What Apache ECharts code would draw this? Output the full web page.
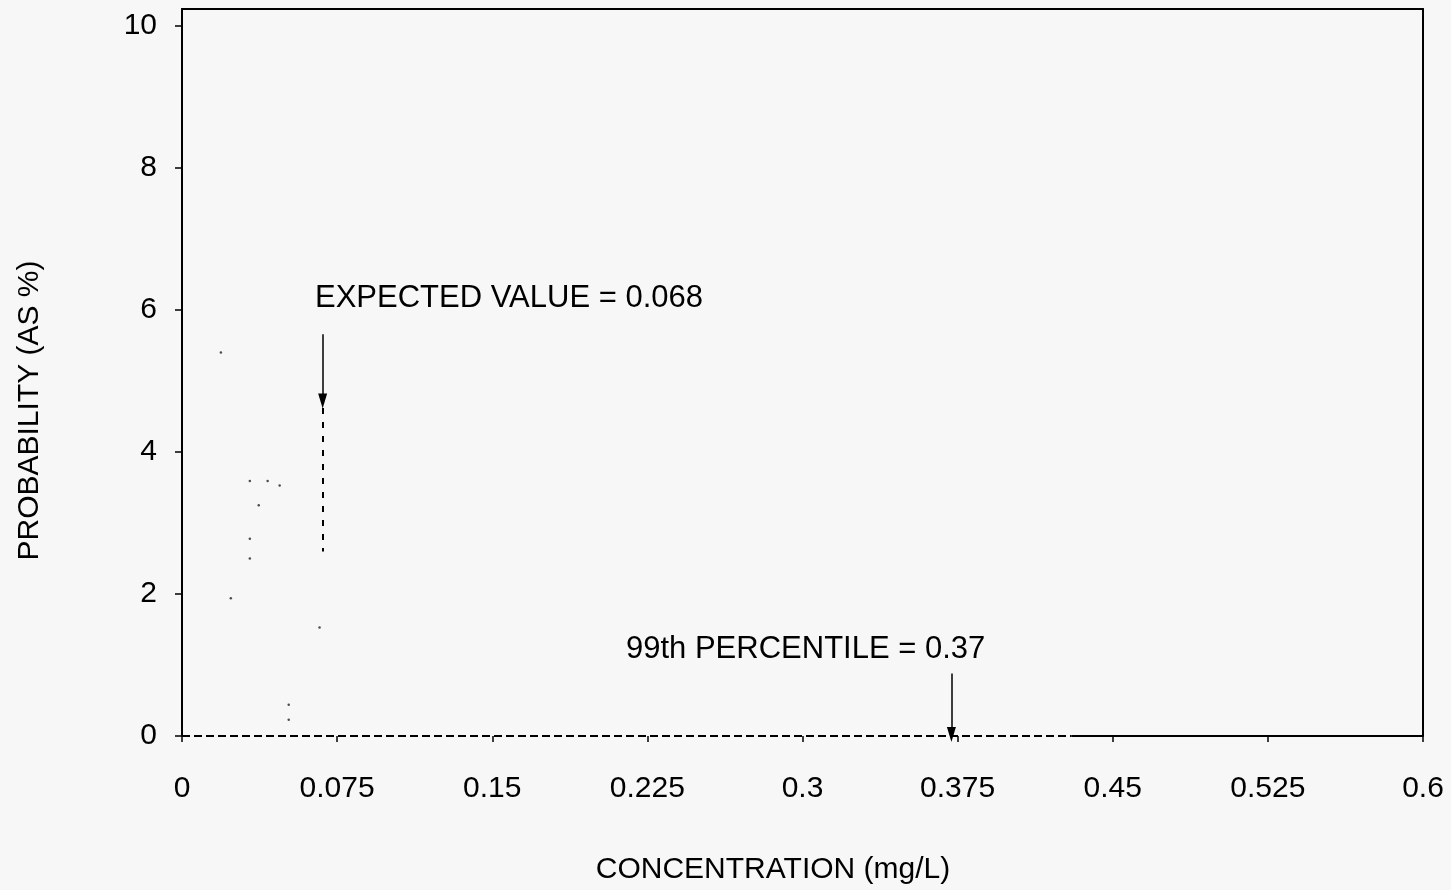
<!DOCTYPE html>
<html>
<head>
<meta charset="utf-8">
<script src="https://cdn.jsdelivr.net/npm/echarts@6/dist/echarts.min.js"></script>
<style>
  html, body { margin: 0; padding: 0; background: #f7f7f7; }
  #chart { width: 1451px; height: 890px; }
</style>
</head>
<body>
<div id="chart"></div>
<script>
// axis ticks
var xTicks = [0, 0.075, 0.15, 0.225, 0.3, 0.375, 0.45, 0.525, 0.6];
var yTicks = [0, 2, 4, 6, 8, 10];

// faint points left of the distribution curve (concentration, probability %)
var curveConc = [0.0188, 0.0328, 0.0414, 0.0472, 0.0371, 0.0328, 0.0328, 0.0236, 0.0665, 0.0516, 0.0516];
var curveProb = [5.40, 3.59, 3.59, 3.53, 3.25, 2.78, 2.50, 1.94, 1.53, 0.44, 0.23];

// tail of the curve lying on zero
var tailConc = [0, 0.43];
var tailProb = [0, 0];

var expectedValue = 0.068;
var p99Value = 0.37;
var p99Arrow = 0.372;

var myChart = echarts.init(document.getElementById('chart'));
var font = "'Liberation Sans', Arial, Helvetica, sans-serif";
var ink = '#000';

var points = curveConc.map(function (c, i) { return [c, curveProb[i]]; });
var tail = tailConc.map(function (c, i) { return [c, tailProb[i]]; });

var option = {
  backgroundColor: '#f7f7f7',
  animation: false,
  textStyle: { fontFamily: font, color: ink },
  grid: { left: 182, right: 28, top: 9, bottom: 154 },
  xAxis: [{
    type: 'value',
    min: 0,
    max: 0.6,
    name: 'CONCENTRATION (mg/L)',
    nameLocation: 'middle',
    nameGap: 119,
    nameTextStyle: { fontSize: 30, color: ink, fontFamily: font, padding: [0, 59, 0, 0] },
    axisLine: { show: false },
    axisTick: { show: true, inside: false, length: 6, customValues: xTicks, lineStyle: { color: ink, width: 1.5 } },
    axisLabel: { customValues: xTicks, fontSize: 30, color: ink, margin: 38, fontFamily: font },
    splitLine: { show: false }
  }, {
    type: 'value',
    position: 'top',
    min: 0,
    max: 0.6,
    axisLine: { show: true, onZero: false, lineStyle: { color: ink, width: 2 } },
    axisTick: { show: false },
    axisLabel: { show: false },
    splitLine: { show: false }
  }],
  yAxis: [{
    type: 'value',
    min: 0,
    max: 10.24,
    name: 'PROBABILITY (AS %)',
    nameLocation: 'middle',
    nameGap: 137,
    nameTextStyle: { fontSize: 30, color: ink, fontFamily: font, padding: [0, 76, 0, 0] },
    axisLine: { show: true, onZero: false, lineStyle: { color: ink, width: 2 } },
    axisTick: { show: true, inside: false, length: 7, customValues: yTicks, lineStyle: { color: ink, width: 1.5 } },
    axisLabel: { customValues: yTicks, fontSize: 30, color: ink, margin: 25, fontFamily: font },
    splitLine: { show: false }
  }, {
    type: 'value',
    position: 'right',
    min: 0,
    max: 10.24,
    axisLine: { show: true, onZero: false, lineStyle: { color: ink, width: 2 } },
    axisTick: { show: false },
    axisLabel: { show: false },
    splitLine: { show: false }
  }],
  series: [{
    // bottom edge: dashed tail, solid beyond
    name: 'tail',
    type: 'line',
    data: tail,
    symbol: 'none',
    lineStyle: { color: ink, width: 2, type: [8, 4] },
    z: 5
  }, {
    name: 'edge',
    type: 'line',
    data: [[tailConc[1], 0], [0.6, 0]],
    symbol: 'none',
    lineStyle: { color: ink, width: 2 },
    z: 5
  }, {
    name: 'curve',
    type: 'scatter',
    data: points,
    symbol: 'circle',
    symbolSize: 2.5,
    itemStyle: { color: '#222' },
    markLine: {
      silent: true,
      symbol: ['none', 'triangle'],
      symbolSize: [9, 15],
      label: { show: false },
      lineStyle: { color: ink, width: 1.5, type: 'solid' },
      data: [
        [{ coord: [expectedValue, 5.66] }, { coord: [expectedValue, 4.72] }],
        [{ coord: [p99Arrow, 0.88] }, { coord: [p99Arrow, 0.02] }],
        [{ coord: [expectedValue, 4.62], symbol: 'none', lineStyle: { type: [6, 8], width: 2 } },
         { coord: [expectedValue, 2.6], symbol: 'none' }]
      ]
    }
  }],
  graphic: [{
    type: 'text',
    left: 315,
    top: 283,
    style: { text: 'EXPECTED VALUE = ' + expectedValue, font: '31px ' + font, fill: ink }
  }, {
    type: 'text',
    left: 626,
    top: 634,
    style: { text: '99th PERCENTILE = ' + p99Value, font: '31px ' + font, fill: ink }
  }]
};

myChart.setOption(option);
</script>
</body>
</html>
